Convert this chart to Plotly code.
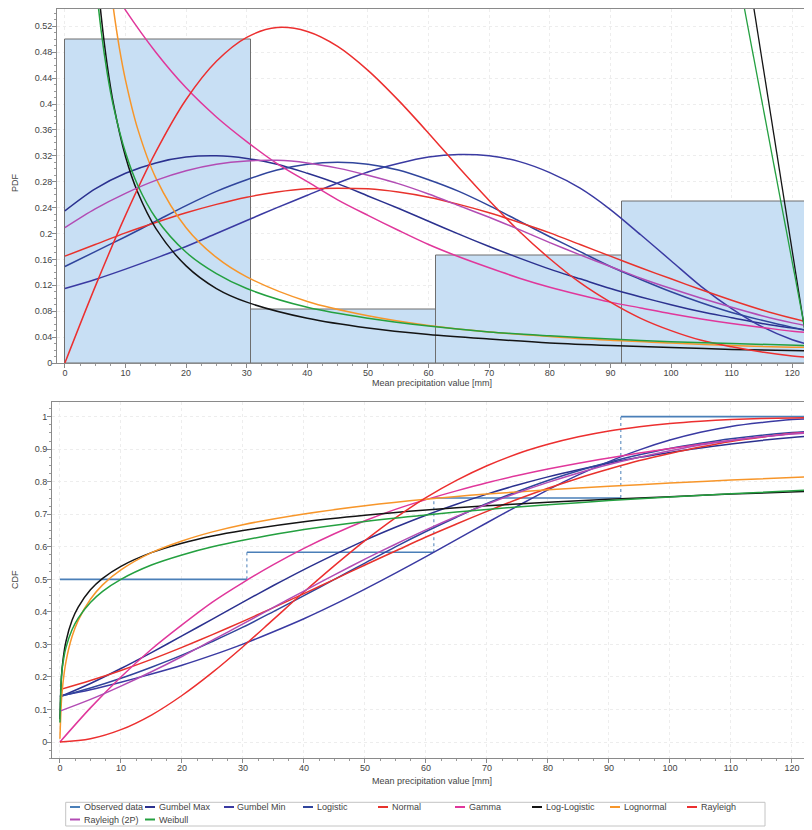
import plotly.graph_objects as go

# ---------------- data ----------------
BIN_EDGES = [0, 30.65, 61.3, 91.95, 122.6]
HIST_FREQ = [0.5, 0.0833, 0.1667, 0.25]

X_TOP = [0, 5, 10, 15, 20, 25, 30, 35, 40, 45, 50, 55, 60, 65, 70, 75, 80, 85, 90, 95,
         100, 105, 110, 115, 120, 122.6]
X_BOT = [0, 5, 10, 15, 20, 25, 30, 35, 40, 45, 50, 55, 60, 65, 70, 75, 80, 85, 90, 95,
         100, 105, 110, 115, 120, 124.6]
X_HEAVY_TOP = [4, 5, 6, 7, 8, 10, 12, 15, 20, 25, 30, 40, 50, 60, 70, 80, 90, 100, 110, 122.6]
X_LOGN_TOP = [7, 8, 9, 10, 12, 15, 20, 25, 30, 40, 50, 60, 70, 80, 90, 100, 110, 122.6]
X_HEAVY_BOT = [0, 0.25, 0.5, 1, 2, 3, 5, 7, 10, 15, 20, 25, 30, 40, 50, 60, 70, 80, 90, 100,
               110, 124.6]

# PDF curves
PDF_GUMBEL_MAX = [0.235, 0.269, 0.293, 0.309, 0.318, 0.320, 0.316, 0.307, 0.293, 0.277, 0.258,
                  0.239, 0.219, 0.199, 0.180, 0.162, 0.145, 0.130, 0.115, 0.102, 0.090, 0.079,
                  0.070, 0.061, 0.054, 0.050]
PDF_GUMBEL_MIN = [0.115, 0.129, 0.145, 0.162, 0.180, 0.200, 0.220, 0.240, 0.259, 0.278, 0.295,
                  0.308, 0.318, 0.322, 0.320, 0.311, 0.294, 0.270, 0.237, 0.198, 0.158, 0.118,
                  0.084, 0.056, 0.036, 0.029]
PDF_LOGISTIC = [0.149, 0.172, 0.195, 0.219, 0.243, 0.265, 0.283, 0.298, 0.307, 0.310, 0.307,
                0.298, 0.283, 0.265, 0.243, 0.219, 0.195, 0.172, 0.149, 0.129, 0.110, 0.093,
                0.078, 0.066, 0.055, 0.050]
PDF_NORMAL = [0.165, 0.183, 0.201, 0.217, 0.232, 0.245, 0.256, 0.264, 0.269, 0.270, 0.269,
              0.264, 0.256, 0.245, 0.232, 0.217, 0.201, 0.183, 0.165, 0.147, 0.130, 0.113,
              0.097, 0.082, 0.069, 0.063]
PDF_GAMMA = [0.700, 0.620, 0.545, 0.480, 0.425, 0.380, 0.342, 0.308, 0.280, 0.252, 0.228,
             0.205, 0.183, 0.164, 0.147, 0.131, 0.117, 0.105, 0.094, 0.085, 0.076, 0.068,
             0.061, 0.055, 0.049, 0.047]
PDF_LOGLOGISTIC = [0.793, 0.639, 0.535, 0.459, 0.401, 0.319, 0.264, 0.208, 0.150, 0.115, 0.094,
                   0.069, 0.054, 0.044, 0.037, 0.031, 0.027, 0.024, 0.021, 0.019]
PDF_LOGLOGISTIC_WRAP = 7.28   # closing segment drawn back to x = 0
PDF_LOGNORMAL = [0.626, 0.548, 0.486, 0.437, 0.362, 0.286, 0.209, 0.163, 0.133, 0.095, 0.073,
                 0.058, 0.048, 0.041, 0.035, 0.031, 0.027, 0.024]
PDF_RAYLEIGH = [0.000, 0.118, 0.228, 0.326, 0.407, 0.466, 0.503, 0.518, 0.512, 0.489, 0.452,
                0.406, 0.355, 0.302, 0.251, 0.203, 0.161, 0.124, 0.094, 0.069, 0.050, 0.035,
                0.025, 0.017, 0.011, 0.009]
PDF_RAYLEIGH2P = [0.209, 0.238, 0.262, 0.282, 0.297, 0.307, 0.312, 0.313, 0.309, 0.301, 0.290,
                  0.277, 0.261, 0.243, 0.225, 0.206, 0.186, 0.167, 0.149, 0.131, 0.115, 0.100,
                  0.086, 0.073, 0.062, 0.057]
PDF_WEIBULL = [0.728, 0.600, 0.512, 0.447, 0.397, 0.325, 0.275, 0.224, 0.171, 0.138, 0.115,
               0.086, 0.069, 0.057, 0.048, 0.042, 0.037, 0.033, 0.030, 0.027]
PDF_WEIBULL_WRAP = 6.11

# CDF curves
OBS_CDF = [0.5, 0.5833, 0.75, 1.0]
CDF_GUMBEL_MAX = [0.139, 0.180, 0.226, 0.275, 0.326, 0.378, 0.430, 0.481, 0.530, 0.576, 0.620,
                  0.660, 0.697, 0.731, 0.762, 0.790, 0.815, 0.837, 0.857, 0.875, 0.890, 0.904,
                  0.916, 0.927, 0.936, 0.942]
CDF_GUMBEL_MIN = [0.142, 0.161, 0.184, 0.209, 0.236, 0.267, 0.301, 0.339, 0.379, 0.423, 0.470,
                  0.519, 0.570, 0.622, 0.674, 0.725, 0.775, 0.821, 0.862, 0.898, 0.928, 0.952,
                  0.970, 0.982, 0.991, 0.995]
CDF_LOGISTIC = [0.140, 0.166, 0.196, 0.230, 0.267, 0.309, 0.353, 0.401, 0.450, 0.500, 0.550,
                0.600, 0.647, 0.691, 0.733, 0.770, 0.804, 0.834, 0.860, 0.883, 0.902, 0.918,
                0.932, 0.943, 0.951, 0.956]
CDF_NORMAL = [0.161, 0.189, 0.220, 0.254, 0.291, 0.330, 0.371, 0.413, 0.456, 0.500, 0.544,
              0.587, 0.630, 0.670, 0.709, 0.746, 0.780, 0.811, 0.839, 0.865, 0.887, 0.907,
              0.924, 0.937, 0.948, 0.953]
CDF_GAMMA = [0.000, 0.105, 0.200, 0.285, 0.360, 0.430, 0.490, 0.545, 0.595, 0.640, 0.680,
             0.715, 0.745, 0.772, 0.797, 0.819, 0.839, 0.857, 0.873, 0.888, 0.902, 0.915,
             0.927, 0.938, 0.948, 0.956]
CDF_LOGLOGISTIC = [0.070, 0.201, 0.252, 0.310, 0.375, 0.415, 0.468, 0.503, 0.540, 0.582, 0.611,
                   0.633, 0.650, 0.677, 0.697, 0.713, 0.726, 0.737, 0.746, 0.754, 0.762, 0.772]
CDF_LOGNORMAL = [0.010, 0.128, 0.182, 0.248, 0.325, 0.374, 0.439, 0.483, 0.529, 0.582, 0.618,
                 0.646, 0.668, 0.701, 0.726, 0.746, 0.762, 0.775, 0.786, 0.796, 0.805, 0.817]
CDF_RAYLEIGH = [0.000, 0.010, 0.038, 0.083, 0.143, 0.214, 0.293, 0.377, 0.461, 0.542, 0.619,
                0.689, 0.751, 0.804, 0.849, 0.886, 0.915, 0.938, 0.956, 0.969, 0.979, 0.986,
                0.991, 0.994, 0.996, 0.997]
CDF_RAYLEIGH2P = [0.095, 0.131, 0.172, 0.216, 0.263, 0.313, 0.363, 0.414, 0.464, 0.514, 0.562,
                  0.608, 0.652, 0.693, 0.731, 0.766, 0.798, 0.827, 0.853, 0.875, 0.895, 0.913,
                  0.927, 0.938, 0.947, 0.952]
CDF_WEIBULL = [0.060, 0.201, 0.243, 0.291, 0.346, 0.381, 0.429, 0.463, 0.500, 0.544, 0.575,
               0.600, 0.620, 0.653, 0.678, 0.698, 0.715, 0.729, 0.742, 0.753, 0.763, 0.776]

LEGEND_NAMES = ["Observed data", "Gumbel Max", "Gumbel Min", "Logistic", "Normal", "Gamma",
                "Log-Logistic", "Lognormal", "Rayleigh", "Rayleigh (2P)", "Weibull"]
COLORS = {
    "Observed data": "#4a7fb8",
    "Gumbel Max": "#2b318f",
    "Gumbel Min": "#3a3aa2",
    "Logistic": "#30459c",
    "Normal": "#e8322c",
    "Gamma": "#e0379b",
    "Log-Logistic": "#141414",
    "Lognormal": "#f7962a",
    "Rayleigh": "#ec2f2f",
    "Rayleigh (2P)": "#b24cb4",
    "Weibull": "#24a040",
}

# ---------------- figure ----------------
fig = go.Figure()

centers = [(a + b) / 2 for a, b in zip(BIN_EDGES[:-1], BIN_EDGES[1:])]
widths = [b - a for a, b in zip(BIN_EDGES[:-1], BIN_EDGES[1:])]
fig.add_trace(go.Bar(x=centers, y=HIST_FREQ, width=widths,
                     marker=dict(color="#c8dff4", line=dict(color="#6e6e6e", width=1)),
                     showlegend=False, hoverinfo="skip", xaxis="x", yaxis="y"))

# Observed data CDF
hx, hy, vx, vy = [], [], [], []
for i, v in enumerate(OBS_CDF):
    x0 = BIN_EDGES[i]
    x1 = BIN_EDGES[i + 1] if i < len(OBS_CDF) - 1 else X_BOT[-1]
    hx += [x0, x1, None]
    hy += [v, v, None]
    if i > 0:
        vx += [x0, x0, None]
        vy += [OBS_CDF[i - 1], v, None]
fig.add_trace(go.Scatter(x=hx, y=hy, mode="lines", name="Observed data", showlegend=False,
                         line=dict(color=COLORS["Observed data"], width=1.6),
                         xaxis="x2", yaxis="y2"))
fig.add_trace(go.Scatter(x=vx, y=vy, mode="lines", name="Observed data", showlegend=False,
                         line=dict(color=COLORS["Observed data"], width=1, dash="dot"),
                         xaxis="x2", yaxis="y2"))

series = [
    ("Gumbel Max", X_TOP, PDF_GUMBEL_MAX, None, X_BOT, CDF_GUMBEL_MAX),
    ("Gumbel Min", X_TOP, PDF_GUMBEL_MIN, None, X_BOT, CDF_GUMBEL_MIN),
    ("Logistic", X_TOP, PDF_LOGISTIC, None, X_BOT, CDF_LOGISTIC),
    ("Normal", X_TOP, PDF_NORMAL, None, X_BOT, CDF_NORMAL),
    ("Gamma", X_TOP, PDF_GAMMA, None, X_BOT, CDF_GAMMA),
    ("Log-Logistic", X_HEAVY_TOP, PDF_LOGLOGISTIC, PDF_LOGLOGISTIC_WRAP, X_HEAVY_BOT,
     CDF_LOGLOGISTIC),
    ("Lognormal", X_LOGN_TOP, PDF_LOGNORMAL, None, X_HEAVY_BOT, CDF_LOGNORMAL),
    ("Rayleigh", X_TOP, PDF_RAYLEIGH, None, X_BOT, CDF_RAYLEIGH),
    ("Rayleigh (2P)", X_TOP, PDF_RAYLEIGH2P, None, X_BOT, CDF_RAYLEIGH2P),
    ("Weibull", X_HEAVY_TOP, PDF_WEIBULL, PDF_WEIBULL_WRAP, X_HEAVY_BOT, CDF_WEIBULL),
]

for name, xp, yp, wrap, xc, yc in series:
    col = COLORS[name]
    fig.add_trace(go.Scatter(x=xp, y=yp, mode="lines", name=name, showlegend=False,
                             line=dict(color=col, width=1.5, shape="spline", smoothing=0.9),
                             xaxis="x", yaxis="y"))
    if wrap is not None:
        # straight closing segment from the last point back to x = 0
        fig.add_trace(go.Scatter(x=[xp[-1], 0], y=[yp[-1], wrap], mode="lines", name=name,
                                 showlegend=False, line=dict(color=col, width=1.3),
                                 xaxis="x", yaxis="y"))
    fig.add_trace(go.Scatter(x=xc, y=yc, mode="lines", name=name, showlegend=False,
                             line=dict(color=col, width=1.5, shape="spline", smoothing=0.9),
                             xaxis="x2", yaxis="y2"))

# The page adds an 8 px body margin, so figure pixel = window pixel - 8.
W, H = 812, 830
OFF = 8


def px_x(v):
    return (v - OFF) / W


def px_y(v):
    return 1 - (v - OFF) / H


axis_common = dict(ticks="outside", ticklen=4, tickcolor="#8a8a8a", showline=True,
                   linecolor="#8a8a8a", linewidth=1, mirror=True, showgrid=True,
                   gridcolor="#ededed", griddash="dot", zeroline=False,
                   tickfont=dict(size=9, color="#444"), automargin=False)
minor_x = dict(dtick=2.5, ticklen=2, ticks="outside", tickcolor="#9a9a9a", showgrid=False)

# legend box (two rows, nine columns) in window pixels
LEG_COLS = [70, 145, 224, 303, 378, 455, 532, 610, 687]
LEG_ROWS = [807, 819.5]
shapes = [dict(type="rect", xref="paper", yref="paper", x0=px_x(65.7), x1=px_x(765),
               y0=px_y(826), y1=px_y(802.3), line=dict(color="#c4c4c4", width=1),
               fillcolor="rgba(0,0,0,0)")]
annotations = [
    dict(text="PDF", x=px_x(15), y=px_y(183), xref="paper", yref="paper",
         xanchor="center", yanchor="middle",
         textangle=-90, showarrow=False, font=dict(size=9, color="#444")),
    dict(text="CDF", x=px_x(15), y=px_y(580), xref="paper", yref="paper",
         xanchor="center", yanchor="middle",
         textangle=-90, showarrow=False, font=dict(size=9, color="#444")),
    dict(text="Mean precipitation value [mm]", x=px_x(432), y=px_y(383), xref="paper",
         yref="paper", xanchor="center", yanchor="middle", showarrow=False,
         font=dict(size=9, color="#444")),
    dict(text="Mean precipitation value [mm]", x=px_x(432), y=px_y(780.5), xref="paper",
         yref="paper", xanchor="center", yanchor="middle", showarrow=False,
         font=dict(size=9, color="#444")),
]
for k, name in enumerate(LEGEND_NAMES):
    cx = LEG_COLS[k % 9]
    cy = LEG_ROWS[k // 9]
    shapes.append(dict(type="line", xref="paper", yref="paper", x0=px_x(cx),
                       x1=px_x(cx + 10), y0=px_y(cy), y1=px_y(cy),
                       line=dict(color=COLORS[name], width=2)))
    annotations.append(dict(text=name, x=px_x(cx + 11.5), y=px_y(cy), xref="paper",
                            yref="paper", xanchor="left", yanchor="middle",
                            showarrow=False, font=dict(size=9, color="#444")))

fig.update_layout(
    width=W, height=H, margin=dict(l=0, r=0, t=0, b=0, autoexpand=False),
    paper_bgcolor="white", plot_bgcolor="white",
    font=dict(family="Liberation Sans, Arial, sans-serif", size=9, color="#444"),
    bargap=0, showlegend=False,
    xaxis=dict(domain=[px_x(57), px_x(808)], range=[-1.3, 122.6], tick0=0, dtick=10,
               anchor="y", minor=minor_x, ticklabelstandoff=-3, **axis_common),
    yaxis=dict(domain=[px_y(363), 1 - 0.5 / H], range=[0, 0.5475], tick0=0, dtick=0.04,
               anchor="x", ticklabelstandoff=-2,
               minor=dict(dtick=0.01, ticklen=2, ticks="outside", tickcolor="#9a9a9a",
                          showgrid=False), **axis_common),
    xaxis2=dict(domain=[px_x(52), 1.0], range=[-1.3, 124.6], tick0=0, dtick=10, anchor="y2",
                minor=minor_x, ticklabelstandoff=-3, **axis_common),
    yaxis2=dict(domain=[px_y(758.3), px_y(401.7)], range=[-0.05, 1.046], tick0=0,
                dtick=0.1, anchor="x2", ticklabelstandoff=-2,
                minor=dict(dtick=0.025, ticklen=2, ticks="outside", tickcolor="#9a9a9a",
                           showgrid=False), **axis_common),
    shapes=shapes,
    annotations=annotations,
)

fig.write_html("out.html")
